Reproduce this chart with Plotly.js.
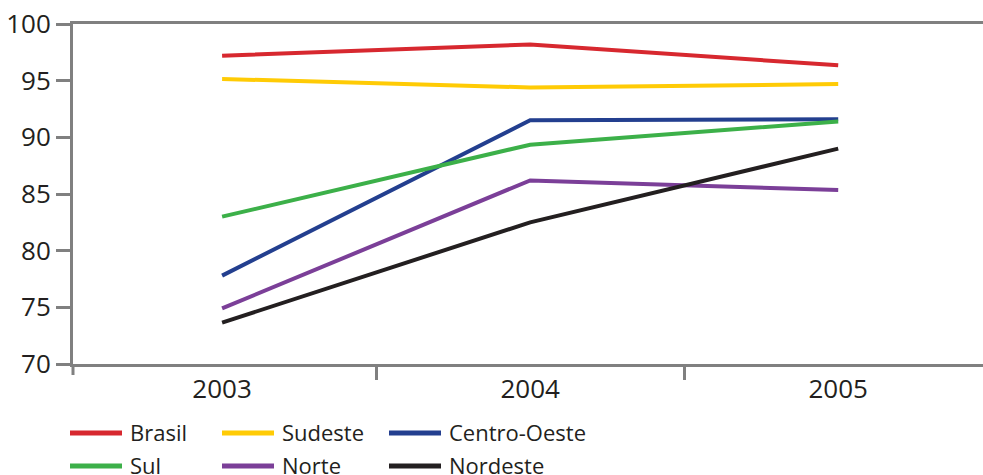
<!DOCTYPE html>
<html>
<head>
<meta charset="utf-8">
<script src="https://cdn.plot.ly/plotly-3.0.1.min.js"></script>
<style>html,body{margin:0;padding:0;background:#fff;}#chart{width:983px;height:475px;}</style>
</head>
<body>
<div id="chart"></div>
<script>
const years = ['2003', '2004', '2005'];
const seriesNames = ['Brasil', 'Sudeste', 'Centro-Oeste', 'Sul', 'Norte', 'Nordeste'];
const brasil = [97.2, 98.2, 96.35];
const sudeste = [95.15, 94.4, 94.7];
const centroOeste = [77.8, 91.5, 91.6];
const sul = [83.0, 89.35, 91.4];
const norte = [74.9, 86.2, 85.35];
const nordeste = [73.65, 82.5, 89.0];
const seriesColors = ['#d7282f', '#ffcb05', '#233f8f', '#3cb049', '#7b3f98', '#231f20'];
const seriesValues = [brasil, sudeste, centroOeste, sul, norte, nordeste];

const W = 983, H = 475, ML = 73, MR = 0, MT = 24, MB = 111;
const PW = W - ML - MR, PH = H - MT - MB;
const px = x => (x - ML) / PW;
const py = y => (H - MB - y) / PH;

const traces = seriesNames.map((n, i) => ({
  type: 'scatter', mode: 'lines', name: n, x: years, y: seriesValues[i],
  line: {color: seriesColors[i], width: 4}, showlegend: false, hoverinfo: 'x+y+name'
}));

const axisColor = '#808080';
const shapes = [{
  type: 'line', xref: 'paper', yref: 'paper', x0: 0, x1: 0, y0: 0, y1: py(375),
  line: {color: axisColor, width: 3}
}];
const annotations = [];
// legend layout (positions only)
const colX = [70, 222, 389];
const rowY = [433, 466];
seriesNames.forEach((n, i) => {
  const c = i % 3, r = Math.floor(i / 3);
  shapes.push({
    type: 'line', xref: 'paper', yref: 'paper',
    x0: px(colX[c]), x1: px(colX[c] + 52), y0: py(rowY[r]), y1: py(rowY[r]),
    line: {color: seriesColors[i], width: 5}
  });
  annotations.push({
    xref: 'paper', yref: 'paper', x: px(colX[c] + 58), y: py(rowY[r] - 1),
    xanchor: 'left', yanchor: 'middle', showarrow: false, text: n,
    font: {family: 'Open Sans, sans-serif', size: 22, color: '#231f20'}
  });
});

const layout = {
  width: W, height: H,
  margin: {l: ML, r: MR, t: MT, b: MB, pad: 0},
  paper_bgcolor: '#fff', plot_bgcolor: '#fff',
  showlegend: false,
  font: {family: 'Open Sans, sans-serif', color: '#231f20'},
  xaxis: {
    type: 'category', range: [-0.484, 2.47], tickson: 'boundaries',
    ticks: 'outside', ticklen: 13, tickwidth: 3, tickcolor: axisColor,
    showline: true, linewidth: 3, linecolor: axisColor, mirror: true,
    showgrid: false, zeroline: false, fixedrange: true,
    tickfont: {size: 26, color: '#231f20'}
  },
  yaxis: {
    range: [70, 100], dtick: 5, tick0: 70,
    ticks: 'outside', ticklen: 14, tickwidth: 3, tickcolor: axisColor,
    showline: true, linewidth: 3, linecolor: axisColor,
    showgrid: false, zeroline: false, fixedrange: true,
    tickfont: {size: 26, color: '#231f20'}
  },
  shapes: shapes,
  annotations: annotations
};

Plotly.newPlot('chart', traces, layout, {displayModeBar: false, staticPlot: true});
</script>
</body>
</html>
